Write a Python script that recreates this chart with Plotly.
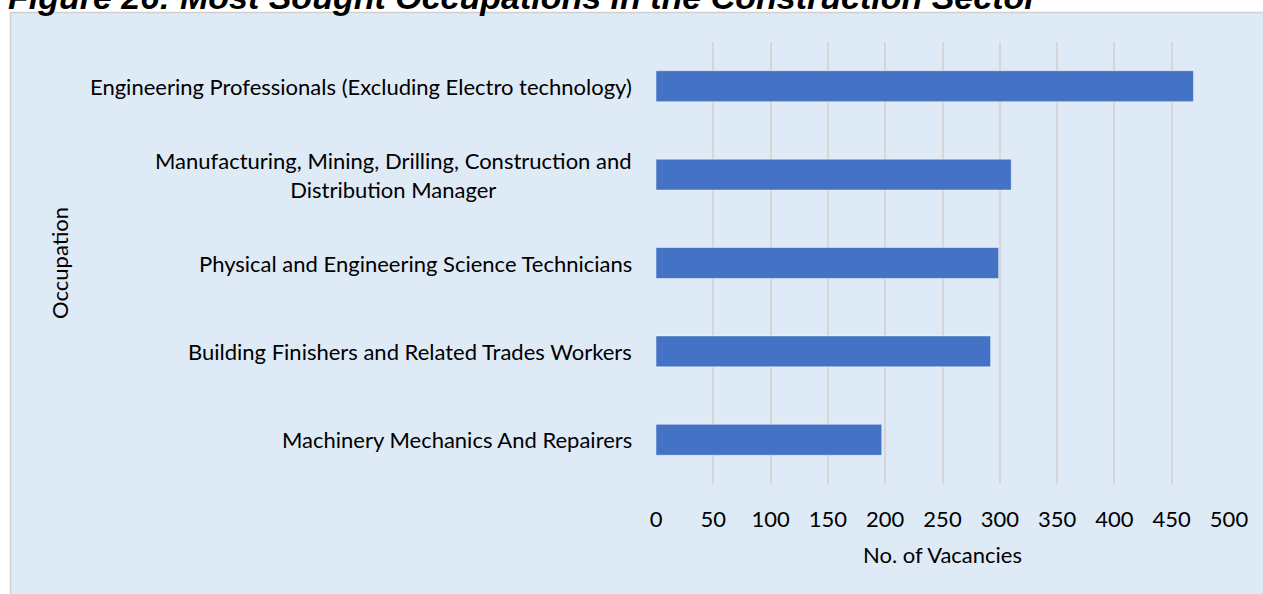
import plotly.graph_objects as go

occupations = [
    "Engineering Professionals (Excluding Electro technology)",
    "Manufacturing, Mining, Drilling, Construction and<br>Distribution Manager",
    "Physical and Engineering Science Technicians",
    "Building Finishers and Related Trades Workers",
    "Machinery Mechanics And Repairers",
]
vacancies = [469, 310, 299, 292, 197]
x_ticks = list(range(0, 501, 50))

title_text = "Figure 26: Most Sought Occupations in the Construction Sector"
x_title = "No. of Vacancies"
y_title = "Occupation"

W, H = 1263, 594
L, R, T, B = 656, 1263 - 1229, 42, 594 - 484
pw, ph = W - L - R, H - T - B


def px_x(px):
    # page pixel -> paper x
    return (px - L) / pw


def px_y(py):
    # page pixel -> paper y
    return (H - B - py) / ph


box_fill = "#DEEAF6"
font_main = "Lato"
fsize = 22

fig = go.Figure()
fig.add_trace(go.Bar(
    x=vacancies,
    y=occupations,
    orientation="h",
    marker=dict(color="#4472C4", line=dict(color="rgba(255,255,255,0.45)", width=1)),
    width=0.35,
    hoverinfo="x+y",
))

annotations = []
# category labels: lines centred, right edge near the axis
for occ in occupations:
    annotations.append(dict(
        x=px_x(634), y=occ, xref="paper", yref="y",
        text=occ, showarrow=False, xanchor="right", align="center",
        font=dict(family=font_main, size=fsize, color="black"),
    ))
annotations.append(dict(
    x=px_x(59), y=px_y(263), xref="paper", yref="paper",
    text=y_title, showarrow=False, textangle=-90,
    xanchor="center", yanchor="middle",
    font=dict(family=font_main, size=fsize, color="black"),
))
# title is cut off by the top edge, like the source
annotations.append(dict(
    x=px_x(6), y=px_y(18), xref="paper", yref="paper",
    text="<b><i>" + title_text + "</i></b>", showarrow=False,
    xanchor="left", yanchor="bottom",
    font=dict(family="Liberation Sans", size=34, color="black"),
))

fig.update_layout(
    width=W, height=H,
    margin=dict(l=L, r=R, t=T, b=B, autoexpand=False),
    paper_bgcolor="white",
    plot_bgcolor=box_fill,
    showlegend=False,
    bargap=0.65,
    annotations=annotations,
    shapes=[dict(
        type="rect", xref="paper", yref="paper", layer="below",
        x0=px_x(10.5), x1=px_x(1275), y0=px_y(12.5), y1=px_y(610),
        fillcolor=box_fill, line=dict(color="#D0D0D0", width=1.5),
    )],
    xaxis=dict(
        range=[0, 500], tickvals=x_ticks, showgrid=True, automargin=False,
        gridcolor="#D6D6D6", gridwidth=1.5, zeroline=False,
        showline=False, ticks="", ticklabelstandoff=20,
        tickfont=dict(family=font_main, size=fsize, color="black"),
        title=dict(text=x_title, standoff=16,
                   font=dict(family=font_main, size=fsize, color="black")),
    ),
    yaxis=dict(
        autorange="reversed", showticklabels=False, showgrid=False,
        automargin=False, zeroline=False, showline=False, ticks="",
    ),
)

# drop the default page margin so the figure sits at the window's corner
fig.write_html("out.html", config={"displayModeBar": False},
               post_script="document.body.style.margin = '0';")
